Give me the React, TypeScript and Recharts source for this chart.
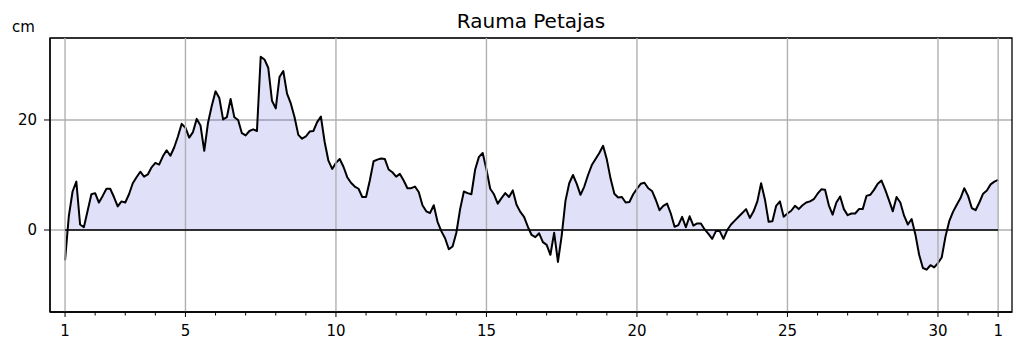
import { Area, CartesianGrid, ComposedChart, ReferenceArea, ReferenceLine, XAxis, YAxis } from 'recharts'

// sea level, cm, every 3 hours from the 1st 00:00 to the 1st of next month
const levelCm = [
  -5.5, 2.5, 7.0, 8.8, 1.0, 0.5, 3.5, 6.5, // 1
  6.7, 5.0, 6.2, 7.5, 7.5, 6.0, 4.3, 5.2, // 2
  5.0, 6.5, 8.5, 9.6, 10.6, 9.7, 10.1, 11.4, // 3
  12.2, 11.9, 13.4, 14.5, 13.5, 15.0, 17.0, 19.3, // 4
  18.6, 16.8, 17.8, 20.2, 19.0, 14.4, 19.5, 22.6, // 5
  25.2, 24.0, 20.1, 20.5, 23.8, 20.5, 20.0, 17.6, // 6
  17.2, 18.0, 18.3, 18.0, 31.5, 31.0, 29.5, 23.5, // 7
  22.1, 27.8, 28.9, 24.8, 23.0, 20.5, 17.3, 16.6, // 8
  17.0, 17.9, 18.0, 19.6, 20.6, 16.0, 12.6, 11.1, // 9
  12.2, 12.9, 11.5, 9.6, 8.6, 7.9, 7.5, 6.0, // 10
  6.0, 9.0, 12.5, 12.8, 13.0, 12.9, 11.0, 10.5, // 11
  9.7, 10.2, 9.0, 7.6, 7.6, 7.9, 6.9, 4.5, // 12
  3.4, 3.1, 4.5, 1.5, -0.2, -1.5, -3.5, -3.0, // 13
  -0.5, 3.8, 7.0, 6.7, 6.5, 11.0, 13.3, 14.0, // 14
  11.0, 7.5, 6.5, 4.8, 5.8, 6.7, 6.0, 7.2, // 15
  4.6, 3.3, 2.4, 0.6, -0.9, -1.3, -0.6, -2.2, // 16
  -2.7, -4.5, -0.5, -5.8, -1.0, 5.3, 8.5, 10.0, // 17
  8.4, 6.4, 7.9, 10.0, 11.8, 12.9, 14.0, 15.3, // 18
  12.8, 9.3, 6.6, 5.9, 6.0, 5.0, 5.1, 6.5, // 19
  7.5, 8.4, 8.6, 7.6, 7.1, 5.5, 3.6, 4.4, // 20
  4.8, 3.0, 0.6, 0.9, 2.4, 0.5, 2.5, 0.8, // 21
  1.2, 1.2, 0.1, -0.7, -1.6, -0.2, -0.2, -1.6, // 22
  0.0, 1.0, 1.7, 2.4, 3.1, 3.8, 2.2, 3.4, // 23
  5.2, 8.5, 5.6, 1.5, 1.6, 4.4, 5.2, 2.4, // 24
  3.0, 3.5, 4.4, 3.8, 4.5, 5.0, 5.2, 5.6, // 25
  6.6, 7.4, 7.3, 4.5, 2.8, 5.0, 6.1, 3.8, // 26
  2.7, 3.0, 3.0, 3.8, 3.8, 6.2, 6.4, 7.3, // 27
  8.4, 9.0, 7.3, 5.4, 3.4, 6.0, 5.0, 2.6, // 28
  1.0, 2.0, -0.8, -4.5, -6.9, -7.2, -6.4, -6.8, // 29
  -6.0, -5.0, -1.2, 1.6, 3.3, 4.6, 5.8, 7.6, // 30
  6.2, 4.0, 3.6, 5.0, 6.6, 7.2, 8.3, 8.8, // 31
  9.1, // 1
]
const STEP_DAYS = 0.125

const dayTicks = Array.from({ length: 32 }, (_, i) => i)
const majorTicks = [0, 4, 9, 14, 19, 24, 29, 31]
const majorLabels = ['1', '5', '10', '15', '20', '25', '30', '1']
const yTicks = [0, 20]

const X_DOMAIN: [number, number] = [-0.5, 31.46]
const Y_DOMAIN: [number, number] = [-14.9, 34.9]

const data = levelCm.map((v, i) => ({ t: i * STEP_DAYS, v }))

const font = 'DejaVu Sans, sans-serif'

function DayTick(props: any) {
  const { x, y, payload } = props
  const idx = majorTicks.indexOf(payload.value)
  const major = idx >= 0
  return (
    <g>
      <line x1={x} x2={x} y1={y} y2={y + (major ? 5 : 3.5)} stroke='#000' strokeWidth={1} />
      {major && (
        <text x={x} y={y + 24} textAnchor='middle' fontSize={15} fontFamily={font} fill='#000'>
          {majorLabels[idx]}
        </text>
      )}
    </g>
  )
}

export default function App() {
  return (
    <div style={{ position: 'absolute', left: 0, top: 0, width: 1024, height: 352, background: '#fff' }}>
      <ComposedChart
        width={1024}
        height={352}
        data={data}
        margin={{ top: 38, right: 12, bottom: 0, left: 0 }}
      >
        <CartesianGrid vertical={false} stroke='#b0b0b0' strokeWidth={1.4} />
        <XAxis
          dataKey='t'
          type='number'
          domain={X_DOMAIN}
          allowDataOverflow
          ticks={dayTicks}
          interval={0}
          height={40}
          tickSize={0}
          tickMargin={0}
          tickLine={false}
          tick={<DayTick />}
          axisLine={{ stroke: '#000', strokeWidth: 1.3 }}
        />
        <YAxis
          type='number'
          domain={Y_DOMAIN}
          allowDataOverflow
          ticks={yTicks}
          interval={0}
          width={50}
          tickSize={6}
          tickMargin={7}
          tickLine={{ stroke: '#000' }}
          tick={{ fill: '#000', fontSize: 15, fontFamily: font }}
          axisLine={{ stroke: '#000', strokeWidth: 1.3 }}
        />
        {majorTicks.map((d) => (
          <ReferenceLine key={d} x={d} stroke='#b0b0b0' strokeWidth={1.4} />
        ))}
        <Area
          type='linear'
          dataKey='v'
          baseValue={0}
          stroke='#000'
          strokeWidth={2}
          strokeLinejoin='round'
          fill='#2222cd'
          fillOpacity={0.14}
          dot={false}
          activeDot={false}
          isAnimationActive={false}
        />
        <ReferenceLine
          segment={[{ x: 0, y: 0 }, { x: 31, y: 0 }]}
          stroke='#000'
          strokeWidth={1.3}
        />
        <ReferenceArea
          x1={X_DOMAIN[0]}
          x2={X_DOMAIN[1]}
          y1={Y_DOMAIN[0]}
          y2={Y_DOMAIN[1]}
          fill='none'
          stroke='#000'
          strokeWidth={1.3}
        />
      </ComposedChart>
      <svg
        width={1024}
        height={352}
        style={{ position: 'absolute', left: 0, top: 0, pointerEvents: 'none' }}
      >
        <text x={531} y={28} textAnchor='middle' fontSize={20} fontFamily={font} fill='#000'>
          Rauma Petajas
        </text>
        <text x={12} y={32} fontSize={15} fontFamily={font} fill='#000'>
          cm
        </text>
      </svg>
    </div>
  )
}
